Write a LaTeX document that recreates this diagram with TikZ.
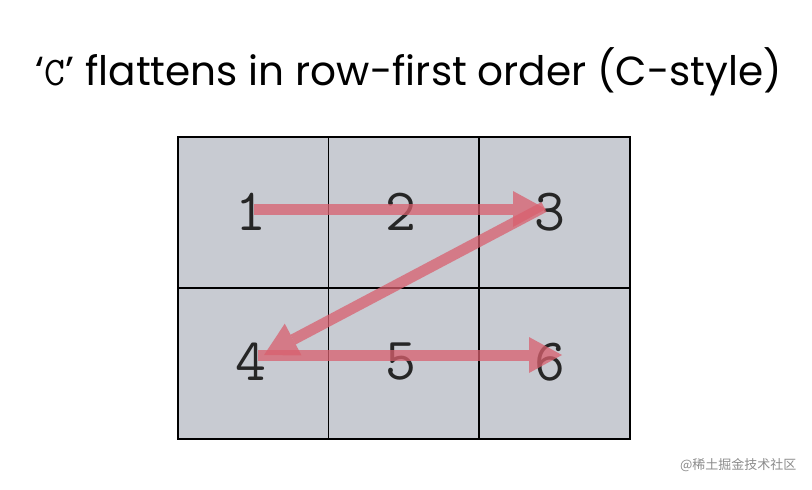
\documentclass[tikz,border=0pt]{standalone}
\usepackage{fontspec}
\setmainfont{Poppins}
\newfontfamily\cjk{Noto Sans CJK SC}
\usetikzlibrary{calc}
\definecolor{cellgray}{HTML}{C8CBD2}
\definecolor{arrred}{HTML}{D9606E}
\tikzset{
  cell/.style={draw=black, line width=1.5pt, fill=cellgray, minimum width=150.7pt, minimum height=151pt, inner sep=0pt, anchor=north west},
  num/.style={font=\ttfamily\fontsize{60}{60}\selectfont, text=black!85},
  shaft/.style={draw=arrred, opacity=0.75, line width=11pt},
  head/.style={fill=arrred, opacity=0.75}
}
\newcommand{\redarrow}[2]{%
  \coordinate (bs) at ($(#2)!33pt!(#1)$);
  \draw[shaft] (#1) -- (bs);
  \fill[head] (#2) -- ($(bs)!18pt!90:(#2)$) -- ($(bs)!18pt!-90:(#2)$) -- cycle;
}
\begin{document}
\begin{tikzpicture}[x=1pt,y=-1pt]
\useasboundingbox (0,0) rectangle (812,490);
\fill[white] (0,0) rectangle (812,490);
\node[font=\fontsize{40.6}{44}\selectfont] (title) at (409,72) {‘{\ttfamily C}’ flattens in row-first order (C-style)};
\foreach \r in {0,1} \foreach \c in {0,1,2} {
  \node[cell] (c\r\c) at ({177+\c*150.7},{136+\r*151}) {};
}
\node[num] (n1) at (251,212) {1};
\node[num] (n2) at (401,212) {2};
\node[num] (n3) at (550,212) {3};
\node[num] (n4) at (251,362) {4};
\node[num] (n5) at (401,362) {5};
\node[num] (n6) at (550,362) {6};
\coordinate (a1) at (254,209);
\coordinate (a3) at (546,209);
\coordinate (b3) at (544,207);
\coordinate (b4) at (264,355);
\coordinate (a4) at (258,355);
\coordinate (a6) at (562,355);
\redarrow{a1}{a3}
\redarrow{b3}{b4}
\redarrow{a4}{a6}
\node[font=\cjk\fontsize{13}{13}\selectfont, text=black!45, anchor=east] (wm) at (800,465) {@稀土掘金技术社区};
\end{tikzpicture}
\end{document}
